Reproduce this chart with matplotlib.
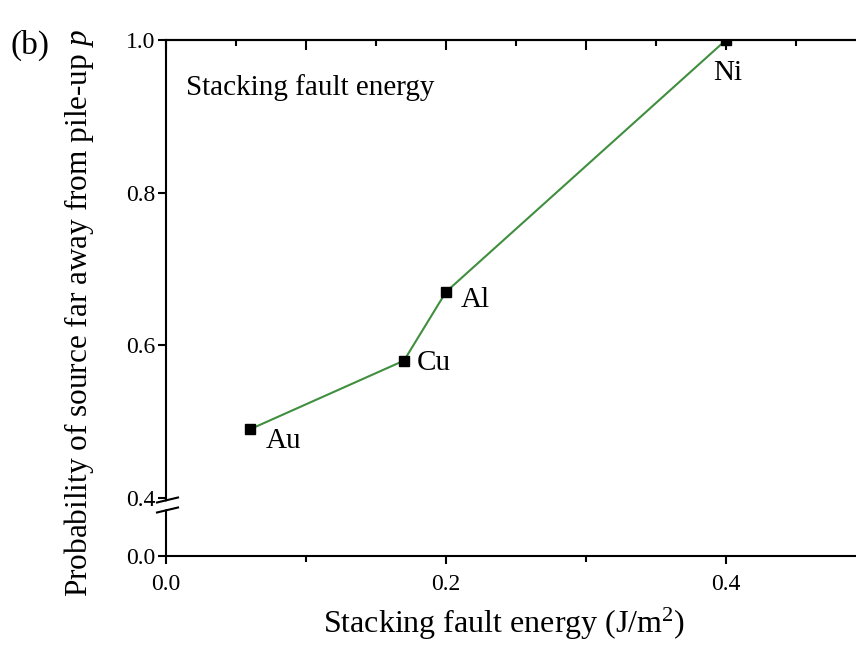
import numpy as np
import matplotlib
matplotlib.use("Agg")
import matplotlib.pyplot as plt
from matplotlib.patches import Polygon
from matplotlib.ticker import MultipleLocator, FixedLocator, NullFormatter

# ---------- data ----------
metals = ["Au", "Cu", "Al", "Ni"]
sfe = [0.06, 0.17, 0.20, 0.40]          # stacking fault energy (J/m^2)
prob = [0.49, 0.58, 0.67, 1.00]          # probability p
label_offsets = [(11.5, -8.6), (9.4, -1.4), (10.8, -5.8), (-9.4, -23.8)]

y_ticks = [0.0, 0.4, 0.6, 0.8, 1.0]
x_ticks = [0.0, 0.2, 0.4]

# ---------- broken y scale (0-0.4 compressed) ----------
BREAK = 0.4
SQUEEZE = 0.19


def fwd(y):
    y = np.asarray(y, dtype=float)
    return np.where(y < BREAK, y * SQUEEZE, BREAK * SQUEEZE + (y - BREAK))


def inv(u):
    u = np.asarray(u, dtype=float)
    return np.where(u < BREAK * SQUEEZE, u / SQUEEZE, u - BREAK * SQUEEZE + BREAK)


plt.rcParams["font.family"] = ["Liberation Serif", "DejaVu Serif"]
plt.rcParams["mathtext.fontset"] = "custom"
plt.rcParams["mathtext.it"] = "Liberation Serif:italic"
plt.rcParams["mathtext.rm"] = "Liberation Serif"

W, H = 856, 657
fig = plt.figure(figsize=(W / 100, H / 100), dpi=100)
left, top, bottom = 166, 40, 556
ax = fig.add_axes([left / W, (H - bottom) / H, 728 / W, (bottom - top) / H])

ax.set_yscale("function", functions=(fwd, inv))
ax.set_xlim(0, 0.52)
ax.set_ylim(0, 1.0)

ax.plot(sfe, prob, color="#3f8f3f", lw=1.5, zorder=2)
ax.plot(sfe, prob, ls="none", marker="s", ms=7, color="black", zorder=3)

for m, x, y, off in zip(metals, sfe, prob, label_offsets):
    ax.annotate(m, (x, y), xytext=off, textcoords="offset points",
                fontsize=21, ha="left", va="center")

ax.text(0.027, 0.907, "Stacking fault energy", transform=ax.transAxes,
        fontsize=21, ha="left", va="center")

# spines / ticks
for s in ("left", "bottom", "top"):
    ax.spines[s].set_linewidth(1.5)
ax.spines["right"].set_visible(False)

ax.yaxis.set_major_locator(FixedLocator(y_ticks))
ax.yaxis.set_minor_locator(FixedLocator([]))
ax.set_yticklabels([f"{t:.1f}" for t in y_ticks])
ax.xaxis.set_major_locator(FixedLocator(x_ticks))
ax.xaxis.set_minor_locator(MultipleLocator(0.1))
ax.set_xticklabels([f"{t:.1f}" for t in x_ticks])
ax.tick_params(which="major", direction="out", length=6, width=1.5,
               labelsize=17, pad=1.5)
ax.tick_params(which="minor", direction="out", length=4, width=1.5)
ax.tick_params(axis="x", which="major", pad=7)
ax.tick_params(right=False, top=False)

sec = ax.secondary_xaxis("top")
sec.xaxis.set_major_locator(MultipleLocator(0.1))
sec.xaxis.set_minor_locator(MultipleLocator(0.05))
sec.xaxis.set_major_formatter(NullFormatter())
sec.tick_params(which="major", direction="in", length=7, width=1.5)
sec.tick_params(which="minor", direction="in", length=4, width=1.5)
sec.spines["top"].set_linewidth(1.5)

ax.set_xlabel("Stacking fault energy (J/m$^2$)", fontsize=23, labelpad=8)
ax.xaxis.label.set_x((504 - left) / 728)
ax.set_ylabel("Probability of source far away from pile-up $p$",
              fontsize=22.5, labelpad=22)
ax.yaxis.label.set_y((bottom - 313) / (bottom - top))

# break marks on the left spine
h = bottom - top
w = 728
c1, c2 = (bottom - 500) / h, (bottom - 510) / h
dx0, dx1 = -9 / w, 12 / w
dy = 2.5 / h
gap = Polygon([[dx0, c2 - dy + 1 / h], [dx1, c2 + dy + 1 / h],
               [dx1, c1 + dy - 1 / h], [dx0, c1 - dy - 1 / h]],
              closed=True, transform=ax.transAxes, facecolor="white",
              edgecolor="none", clip_on=False, zorder=5)
ax.add_patch(gap)
for c in (c1, c2):
    ax.plot([dx0, dx1], [c - dy, c + dy], transform=ax.transAxes,
            color="black", lw=1.5, clip_on=False, zorder=6)

fig.text(10 / W, 1 - 45 / H, "(b)", fontsize=24, ha="left", va="center")

fig.savefig("out.png", dpi=100)
